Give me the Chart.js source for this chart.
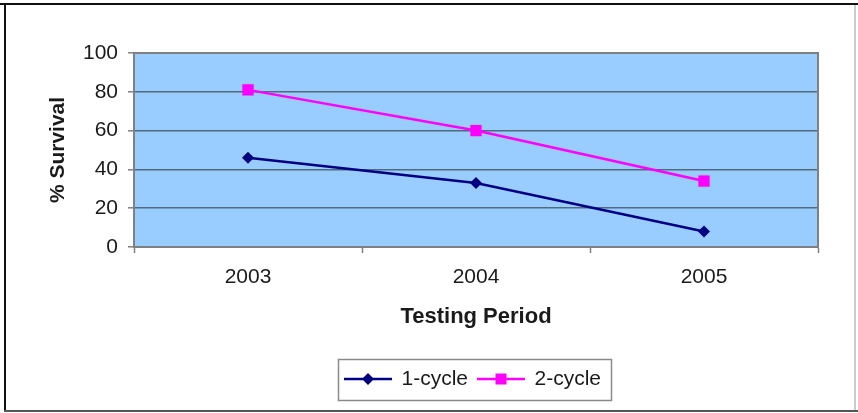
<!DOCTYPE html>
<html>
<head>
<meta charset="utf-8">
<script src="https://cdn.jsdelivr.net/npm/chart.js@4/dist/chart.umd.min.js"></script>
<style>
  html, body { margin: 0; padding: 0; background: #fff; }
  #wrap { width: 858px; height: 413px; position: relative; }
</style>
</head>
<body>
<div id="wrap"><canvas id="c" width="858" height="413"></canvas></div>
<script>
const categories = ['2003', '2004', '2005'];
const oneCycle = [46, 33, 8];
const twoCycle = [81, 60, 34];
const seriesNames = ['1-cycle', '2-cycle'];
const yTicks = [0, 20, 40, 60, 80, 100];
const xTitle = 'Testing Period';
const yTitle = '% Survival';

const NAVY = '#000080';
const PINK = '#FF00FF';
const FONT = "'Liberation Sans', Arial, sans-serif";

function legendImage(color, shape) {
  const c = document.createElement('canvas');
  c.width = 48; c.height = 16;
  const g = c.getContext('2d');
  g.strokeStyle = color; g.lineWidth = 2.5;
  g.beginPath(); g.moveTo(0, 8); g.lineTo(48, 8); g.stroke();
  g.fillStyle = color;
  g.beginPath();
  if (shape === 'diamond') {
    g.moveTo(24, 2); g.lineTo(30, 8); g.lineTo(24, 14); g.lineTo(18, 8); g.closePath();
  } else {
    g.rect(18.5, 2.5, 11, 11);
  }
  g.fill();
  return c;
}
const legendImgs = [legendImage(NAVY, 'diamond'), legendImage(PINK, 'square')];

const framePlugin = {
  id: 'frame',
  afterLayout(chart) {
    const lg = chart.legend;
    if (lg) { lg.left += 64; lg.right += 64; }
  },
  beforeDraw(chart) {
    const ctx = chart.ctx;
    const a = chart.chartArea;
    ctx.save();
    ctx.fillStyle = '#fff';
    ctx.fillRect(0, 0, chart.width, chart.height);
    // outer frame
    ctx.lineWidth = 2;
    ctx.strokeStyle = '#111';
    ctx.beginPath(); ctx.moveTo(0, 4); ctx.lineTo(858, 4); ctx.stroke();
    ctx.beginPath(); ctx.moveTo(5, 3); ctx.lineTo(5, 412); ctx.stroke();
    ctx.strokeStyle = '#555';
    ctx.beginPath(); ctx.moveTo(4, 411); ctx.lineTo(858, 411); ctx.stroke();
    ctx.strokeStyle = '#ccc';
    ctx.beginPath(); ctx.moveTo(855, 5); ctx.lineTo(855, 410); ctx.stroke();
    // plot background
    ctx.fillStyle = '#99CCFF';
    ctx.fillRect(a.left, a.top, a.right - a.left, a.bottom - a.top);
    ctx.restore();
  },
  beforeDatasetsDraw(chart) {
    const ctx = chart.ctx;
    const a = chart.chartArea;
    ctx.save();
    ctx.strokeStyle = '#808080';
    ctx.lineWidth = 2;
    ctx.strokeRect(a.left, a.top, a.right - a.left, a.bottom - a.top);
    ctx.restore();
  },
  afterDraw(chart) {
    const lg = chart.legend;
    if (!lg || !lg.legendHitBoxes || !lg.legendHitBoxes.length) return;
    const hb = lg.legendHitBoxes;
    let l = Infinity, r = -Infinity, t = Infinity, b = -Infinity;
    hb.forEach(h => {
      l = Math.min(l, h.left); r = Math.max(r, h.left + h.width);
      t = Math.min(t, h.top); b = Math.max(b, h.top + h.height);
    });
    const ctx = chart.ctx;
    ctx.save();
    ctx.strokeStyle = '#8a8a8a';
    ctx.lineWidth = 1.5;
    ctx.strokeRect(Math.round(l - 7) + 0.5, Math.round(t - 10) + 0.5, Math.round(r - l + 17), Math.round(b - t + 20));
    ctx.restore();
  }
};

new Chart(document.getElementById('c'), {
  type: 'line',
  data: {
    labels: categories,
    datasets: [
      {
        label: seriesNames[0], data: oneCycle,
        borderColor: NAVY, backgroundColor: NAVY, borderWidth: 2.5,
        pointStyle: 'rectRot', pointRadius: 6, pointHoverRadius: 6,
        pointBorderWidth: 0, tension: 0, fill: false
      },
      {
        label: seriesNames[1], data: twoCycle,
        borderColor: PINK, backgroundColor: PINK, borderWidth: 2.5,
        pointStyle: 'rect', pointRadius: 8, pointHoverRadius: 8,
        pointBorderWidth: 0, tension: 0, fill: false
      }
    ]
  },
  plugins: [framePlugin],
  options: {
    responsive: false,
    animation: false,
    events: [],
    layout: { padding: { top: 53, left: 0, right: 40, bottom: 13.5 } },
    plugins: {
      tooltip: { enabled: false },
      title: { display: false },
      legend: {
        display: true,
        position: 'bottom',
        labels: {
          usePointStyle: true,
          pointStyleWidth: 46,
          padding: 10,
          color: '#1a1a1a',
          font: { family: FONT, size: 21 },
          generateLabels(chart) {
            const items = Chart.defaults.plugins.legend.labels.generateLabels(chart);
            items.forEach((it, i) => { it.pointStyle = legendImgs[i]; it.rotation = 0; });
            return items;
          }
        }
      }
    },
    scales: {
      x: {
        type: 'category',
        offset: true,
        afterFit(scale) { scale.height = 111.5; },
        grid: {
          offset: true, drawOnChartArea: false, drawTicks: true,
          tickLength: 6, tickColor: '#808080', tickWidth: 1.5
        },
        border: { display: true, color: '#808080', width: 2 },
        ticks: { color: '#1a1a1a', padding: 12, font: { family: FONT, size: 21 }, maxRotation: 0 },
        title: {
          display: true, text: xTitle, color: '#1a1a1a',
          font: { family: FONT, size: 22, weight: 'bold' },
          padding: { top: 12, bottom: 28.3 }
        }
      },
      y: {
        min: 0, max: 100,
        afterFit(scale) { scale.width = 134; },
        afterBuildTicks(scale) { scale.ticks = yTicks.map(v => ({ value: v })); },
        grid: {
          color: '#4f6b7d', lineWidth: 1.6, drawTicks: true,
          tickLength: 6, tickColor: '#808080', tickWidth: 1.5
        },
        border: { display: true, color: '#808080', width: 2 },
        ticks: { color: '#1a1a1a', padding: 10, font: { family: FONT, size: 21 }, stepSize: 20 },
        title: {
          display: true, text: yTitle, color: '#1a1a1a',
          font: { family: FONT, size: 21, weight: 'bold' },
          padding: { top: 45.4, bottom: 0 }
        }
      }
    }
  }
});
</script>
</body>
</html>
